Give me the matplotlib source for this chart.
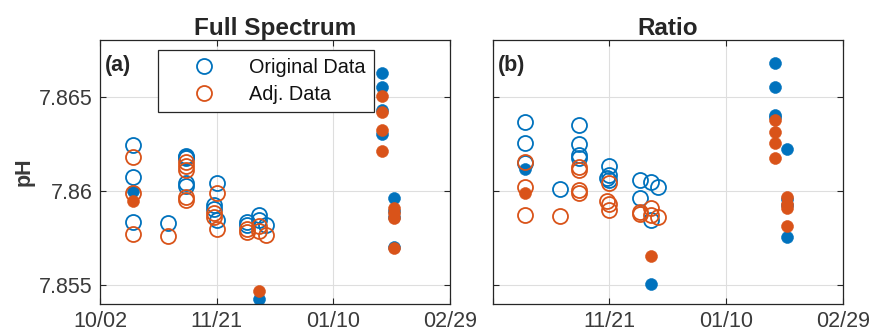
import matplotlib
matplotlib.use("Agg")
import matplotlib.pyplot as plt
import numpy as np

plt.rcParams['font.family'] = ['Liberation Sans', 'DejaVu Sans']

BLUE = '#0072BD'
ORANGE = '#D95319'
AXIS_GRAY = '#262626'
TICK_GRAY = '#3a3a3a'

# Axis ticks
xtick_dates = ['2023-10-02', '2023-11-21', '2024-01-10', '2024-02-29']
xtick_labels = ['10/02', '11/21', '01/10', '02/29']
ytick_values = [7.855, 7.86, 7.865]
ytick_labels = ['7.855', '7.86', '7.865']

panel_titles = ['Full Spectrum', 'Ratio']
panel_tags = ['(a)', '(b)']
legend_labels = ['Original Data', 'Adj. Data']

# Full spectrum: discrete samples (open circles)
fs_open_dates = ['2023-10-16'] * 3 + ['2023-10-31'] + ['2023-11-08'] * 5 + \
    ['2023-11-20'] * 2 + ['2023-11-21'] * 2 + ['2023-12-04'] * 2 + \
    ['2023-12-09'] * 2 + ['2023-12-12']
fs_open_orig = [7.86244, 7.86075, 7.85833, 7.85832, 7.86185, 7.86177, 7.86172,
                7.86041, 7.86025, 7.85925, 7.85903, 7.86040, 7.85845, 7.85837,
                7.85821, 7.85874, 7.85848, 7.85821]
fs_open_adj = [7.86177, 7.85990, 7.85769, 7.85763, 7.86151, 7.86130, 7.86110,
               7.85970, 7.85951, 7.85881, 7.85862, 7.85990, 7.85796, 7.85800,
               7.85784, 7.85813, 7.85787, 7.85768]

# Full spectrum: sensor samples (filled dots)
fs_fill_dates = ['2023-10-16', '2023-12-09'] + ['2024-01-31'] * 4 + ['2024-02-05'] * 4
fs_fill_orig = [7.86001, 7.85429, 7.86627, 7.86553, 7.86429, 7.86302,
                7.85963, 7.85893, 7.85861, 7.85702]
fs_fill_adj = [7.85946, 7.85469, 7.86505, 7.86417, 7.86323, 7.86213,
               7.85911, 7.85882, 7.85854, 7.85695]

# Ratio: discrete samples (open circles)
rt_open_dates = ['2023-10-16'] * 3 + ['2023-10-31'] + ['2023-11-08'] * 4 + \
    ['2023-11-20'] + ['2023-11-21'] * 3 + ['2023-12-04'] * 2 + \
    ['2023-12-09'] * 2 + ['2023-12-12']
rt_open_orig = [7.86364, 7.86252, 7.86148, 7.86012, 7.86347, 7.86246, 7.86190,
                7.86172, 7.86066, 7.86132, 7.86084, 7.86055, 7.86060, 7.85960,
                7.86048, 7.85848, 7.86020]
rt_open_adj = [7.86151, 7.86022, 7.85871, 7.85869, 7.86129, 7.86110, 7.86004,
               7.85987, 7.85947, 7.86040, 7.85930, 7.85898, 7.85886, 7.85877,
               7.85911, 7.85871, 7.85861]

# Ratio: sensor samples (filled dots)
rt_fill_dates = ['2023-10-16', '2023-12-09'] + ['2024-01-31'] * 4 + ['2024-02-05'] * 4
rt_fill_orig = [7.86116, 7.85505, 7.86680, 7.86550, 7.86403, 7.86392,
                7.86222, 7.85956, 7.85925, 7.85753]
rt_fill_adj = [7.85987, 7.85656, 7.86376, 7.86314, 7.86252, 7.86173,
               7.85969, 7.85930, 7.85909, 7.85813]

panels = [
    (fs_open_dates, fs_open_orig, fs_open_adj, fs_fill_dates, fs_fill_orig, fs_fill_adj),
    (rt_open_dates, rt_open_orig, rt_open_adj, rt_fill_dates, rt_fill_orig, rt_fill_adj),
]


def to_dt(seq):
    return np.array(seq, dtype='datetime64[D]')


fig = plt.figure(figsize=(8.72, 3.33), dpi=100)
ax_a = fig.add_axes([0.1147, 0.0871, 0.4014, 0.7928])
ax_b = fig.add_axes([0.5650, 0.0871, 0.4017, 0.7928])
axes = [ax_a, ax_b]

xt = to_dt(xtick_dates)
open_kw = dict(ls='none', marker='o', ms=10.8, mfc='none', mew=1.3)
fill_kw = dict(ls='none', marker='o', ms=8.6, mew=0.4)

for i, ax in enumerate(axes):
    od, oo, oa, fd, fo, fa = panels[i]
    h_orig, = ax.plot(to_dt(od), oo, color=BLUE, **open_kw)
    ax.plot(to_dt(fd), fo, color=BLUE, mfc=BLUE, **fill_kw)
    h_adj, = ax.plot(to_dt(od), oa, color=ORANGE, **open_kw)
    ax.plot(to_dt(fd), fa, color=ORANGE, mfc=ORANGE, **fill_kw)

    ax.set_xlim(xt[0], xt[-1])
    ax.set_ylim(7.854, 7.868)
    ax.set_xticks(xt)
    ax.set_yticks(ytick_values)
    if i == 0:
        ax.set_xticklabels(xtick_labels)
        ax.set_yticklabels(ytick_labels)
        ax.set_ylabel('pH', fontsize=15.5, fontweight='bold', color=TICK_GRAY)
        ax.yaxis.set_label_coords(-0.186, 0.5)
    else:
        # first date label would collide with the last one of panel (a)
        ax.set_xticklabels([''] + xtick_labels[1:])
        ax.set_yticklabels([])

    ax.grid(True, color='#dedede', linewidth=0.8)
    ax.set_axisbelow(True)
    for sp in ax.spines.values():
        sp.set_color(AXIS_GRAY)
        sp.set_linewidth(0.9)
    ax.tick_params(axis='both', which='both', direction='in', length=4,
                   width=0.8, color=AXIS_GRAY, labelcolor=TICK_GRAY,
                   labelsize=15.5, top=True, right=True)
    ax.tick_params(axis='x', pad=5)
    ax.tick_params(axis='y', pad=5.5)

    ax.set_title(panel_titles[i], fontsize=17.5, fontweight='bold',
                 color=AXIS_GRAY, pad=2.5)
    ax.text(0.014, 0.905, panel_tags[i], transform=ax.transAxes,
            ha='left', va='center', fontsize=15.5, fontweight='bold',
            color=AXIS_GRAY)

    if i == 0:
        leg = ax.legend([h_orig, h_adj], legend_labels, loc='upper left',
                        bbox_to_anchor=(0.165, 0.962), fontsize=14.3,
                        frameon=True, fancybox=False, framealpha=1,
                        edgecolor=AXIS_GRAY, handlelength=3.9,
                        handletextpad=0.3, borderpad=0.4, labelspacing=0.4,
                        numpoints=1, borderaxespad=0)
        leg.get_frame().set_linewidth(0.9)
        for t in leg.get_texts():
            t.set_color('#111111')

fig.savefig('out.png', dpi=100)
